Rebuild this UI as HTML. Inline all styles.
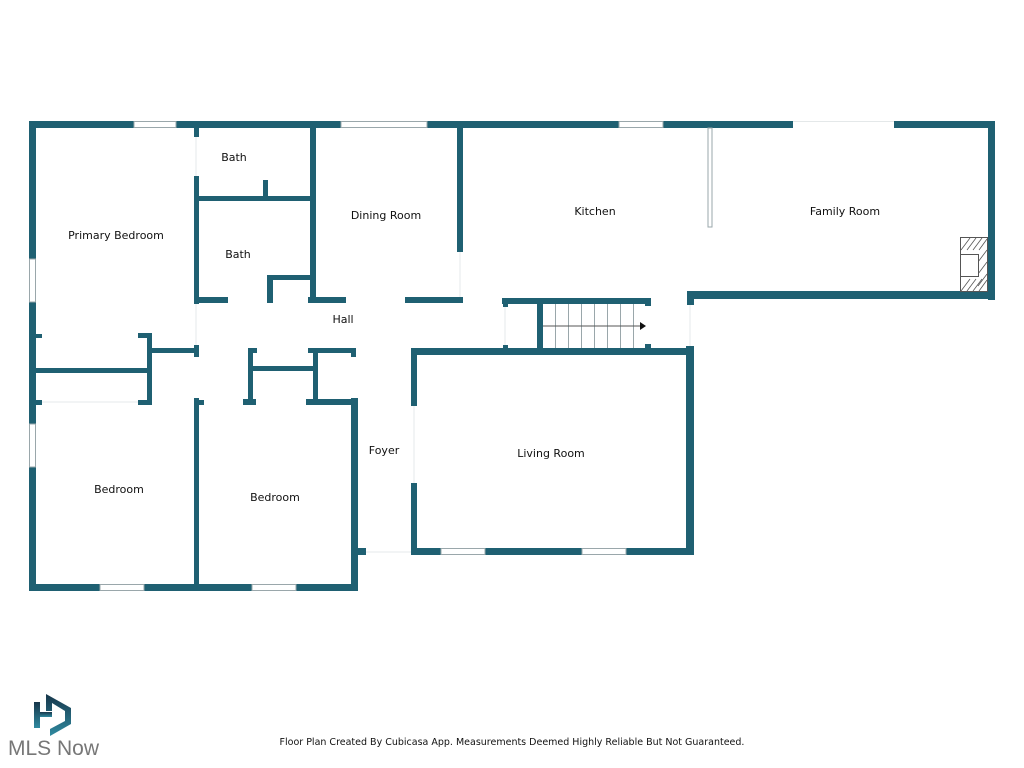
<!DOCTYPE html>
<html><head><meta charset="utf-8"><style>
html,body{margin:0;padding:0;background:#fff;}
svg{display:block}
text{font-family:"DejaVu Sans","Liberation Sans",sans-serif;font-size:11px;fill:#111;}
</style></head><body>
<svg width="1024" height="768" viewBox="0 0 1024 768" xmlns="http://www.w3.org/2000/svg">
<g fill="#1f6072">
<rect x="29" y="121" width="966" height="7"/>
<rect x="29" y="121" width="7" height="470"/>
<rect x="29" y="584" width="329" height="7"/>
<rect x="351" y="398" width="7" height="193"/>
<rect x="351" y="548" width="15" height="7"/>
<rect x="988" y="121" width="7" height="179"/>
<rect x="687" y="291" width="308" height="8"/>
<rect x="687" y="291" width="7" height="14"/>
<rect x="411" y="348" width="283" height="7"/>
<rect x="411" y="348" width="6" height="58"/>
<rect x="411" y="483" width="6" height="72"/>
<rect x="411" y="548" width="283" height="7"/>
<rect x="686" y="346" width="8" height="209"/>
<rect x="194" y="128" width="5" height="9"/>
<rect x="194" y="176" width="5" height="128"/>
<rect x="194" y="196" width="118" height="5"/>
<rect x="263" y="180" width="5" height="20"/>
<rect x="310" y="128" width="6" height="175"/>
<rect x="194" y="297" width="34" height="6"/>
<rect x="267" y="275" width="6" height="28"/>
<rect x="267" y="275" width="45" height="5"/>
<rect x="308" y="297" width="38" height="6"/>
<rect x="405" y="297" width="58" height="6"/>
<rect x="457" y="128" width="6" height="124"/>
<rect x="502" y="298" width="149" height="6"/>
<rect x="537" y="298" width="6" height="52"/>
<rect x="503" y="298" width="5" height="9"/>
<rect x="503" y="345" width="5" height="5"/>
<rect x="645" y="298" width="6" height="8"/>
<rect x="645" y="344" width="6" height="6"/>
<rect x="36" y="334" width="6" height="4"/>
<rect x="138" y="333" width="13" height="5"/>
<rect x="147" y="333" width="5" height="72"/>
<rect x="36" y="368" width="115" height="5"/>
<rect x="151" y="348" width="47" height="5"/>
<rect x="194" y="345" width="5" height="12"/>
<rect x="36" y="400" width="6" height="5"/>
<rect x="138" y="400" width="13" height="5"/>
<rect x="194" y="398" width="5" height="188"/>
<rect x="194" y="400" width="10" height="5"/>
<rect x="243" y="399" width="13" height="6"/>
<rect x="306" y="399" width="52" height="6"/>
<rect x="248" y="348" width="5" height="55"/>
<rect x="248" y="348" width="9" height="5"/>
<rect x="248" y="366" width="66" height="5"/>
<rect x="313" y="348" width="5" height="55"/>
<rect x="308" y="348" width="48" height="5"/>
<rect x="351" y="348" width="5" height="9"/>
</g>
<g fill="#fff" stroke="#9aa7ab" stroke-width="1">
<rect x="134" y="121.5" width="42" height="6"/>
<rect x="341" y="121.5" width="86" height="6"/>
<rect x="619" y="121.5" width="44" height="6"/>
<rect x="29.5" y="259" width="6" height="43"/>
<rect x="29.5" y="424" width="6" height="43"/>
<rect x="100" y="584.5" width="44" height="6"/>
<rect x="252" y="584.5" width="44" height="6"/>
<rect x="441" y="548.5" width="44" height="6"/>
<rect x="582" y="548.5" width="44" height="6"/>
<rect x="708" y="128" width="4" height="99"/>
</g>
<rect x="793" y="121" width="101" height="7" fill="#fff"/>
<line x1="793" y1="121.5" x2="894" y2="121.5" stroke="#e4e8e9"/>
<g stroke="#e6eaeb" stroke-width="1">
<line x1="460" y1="252" x2="460" y2="297"/>
<line x1="42" y1="402" x2="138" y2="402"/>
<line x1="505" y1="307" x2="505" y2="345"/>
<line x1="690" y1="305" x2="690" y2="346"/>
<line x1="366" y1="552" x2="411" y2="552"/>
<line x1="414" y1="406" x2="414" y2="483"/>
<line x1="196" y1="137" x2="196" y2="176"/>
<line x1="196" y1="304" x2="196" y2="345"/>
</g>
<g stroke="#9aa7ab" stroke-width="1">
<line x1="555.5" y1="304" x2="555.5" y2="348"/>
<line x1="568.5" y1="304" x2="568.5" y2="348"/>
<line x1="581.5" y1="304" x2="581.5" y2="348"/>
<line x1="594.5" y1="304" x2="594.5" y2="348"/>
<line x1="607.5" y1="304" x2="607.5" y2="348"/>
<line x1="620.5" y1="304" x2="620.5" y2="348"/>
<line x1="633.5" y1="304" x2="633.5" y2="348"/>
</g>
<line x1="543" y1="326" x2="640" y2="326" stroke="#555" stroke-width="1"/>
<polygon points="640,322 646,326 640,330" fill="#111"/>
<rect x="960.5" y="237.5" width="27" height="54" fill="#fff" stroke="#555"/>
<g stroke="#555" stroke-width="0.8">
<line x1="961" y1="250" x2="970" y2="238"/><line x1="967" y1="250" x2="976" y2="238"/><line x1="973" y1="250" x2="982" y2="238"/><line x1="979" y1="250" x2="987" y2="239"/>
<line x1="978" y1="262" x2="987" y2="250"/><line x1="978" y1="274" x2="987" y2="262"/><line x1="978" y1="286" x2="987" y2="274"/>
<line x1="961" y1="291" x2="970" y2="279"/><line x1="967" y1="291" x2="976" y2="279"/><line x1="973" y1="291" x2="982" y2="279"/><line x1="979" y1="291" x2="987" y2="280"/>
</g>
<rect x="960.5" y="254.5" width="18" height="22" fill="#fff" stroke="#555"/>
<text x="116" y="239" text-anchor="middle">Primary Bedroom</text>
<text x="234" y="161" text-anchor="middle">Bath</text>
<text x="238" y="258" text-anchor="middle">Bath</text>
<text x="386" y="219" text-anchor="middle">Dining Room</text>
<text x="595" y="215" text-anchor="middle">Kitchen</text>
<text x="845" y="215" text-anchor="middle">Family Room</text>
<text x="343" y="323" text-anchor="middle">Hall</text>
<text x="384" y="454" text-anchor="middle">Foyer</text>
<text x="551" y="457" text-anchor="middle">Living Room</text>
<text x="119" y="493" text-anchor="middle">Bedroom</text>
<text x="275" y="501" text-anchor="middle">Bedroom</text>
<text x="512" y="745" text-anchor="middle" style="font-size:9.5px">Floor Plan Created By Cubicasa App. Measurements Deemed Highly Reliable But Not Guaranteed.</text>
<defs><linearGradient id="lg" x1="0" y1="0" x2="0" y2="1"><stop offset="0" stop-color="#17364a"/><stop offset="1" stop-color="#2f8aa0"/></linearGradient></defs>
<rect x="34" y="702" width="6" height="26" fill="url(#lg)"/>
<path d="M46 694 L71 708 L71 724 L50 736 L50 729 L65 721 L65 711 L52 703 L52 711 L46 711 Z" fill="url(#lg)"/>
<rect x="40" y="712" width="12" height="5" fill="url(#lg)"/>
<text x="8" y="755" style="font-family:'Liberation Sans',sans-serif;font-size:21px;fill:#777">MLS Now</text>
</svg>
</body></html>
